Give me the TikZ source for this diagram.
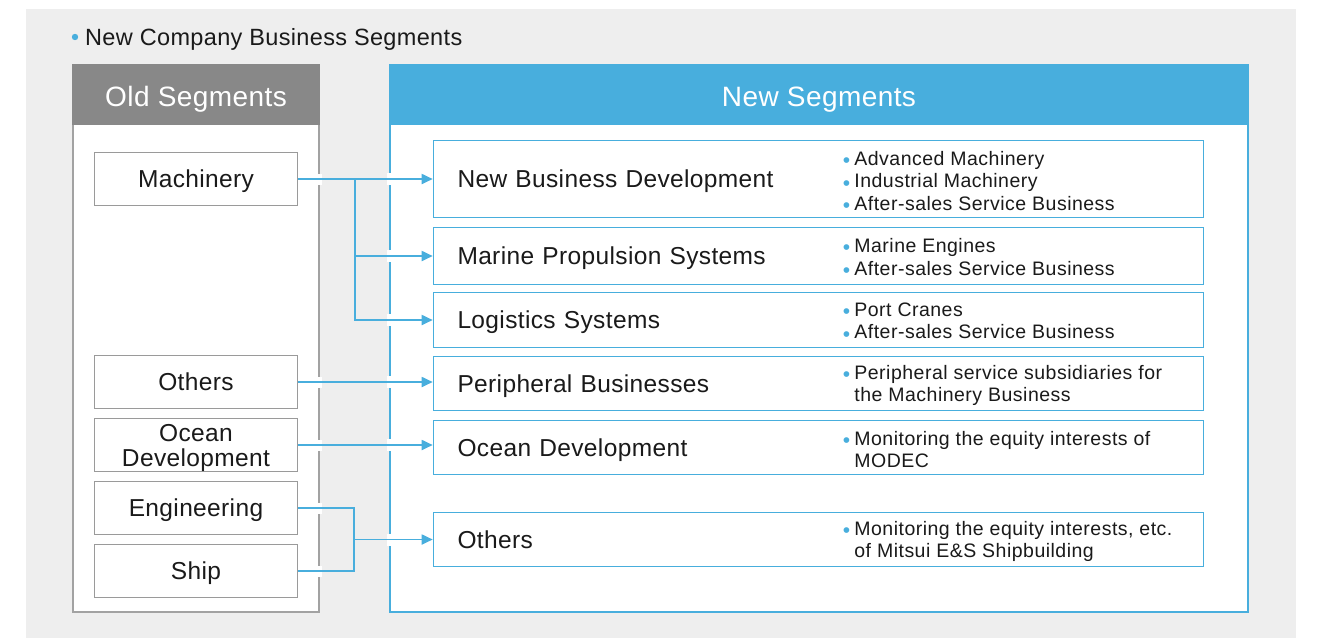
\documentclass[tikz,border=0pt]{standalone}
\usepackage{fontspec}
\setmainfont{Liberation Sans}[LetterSpace=1.5]
\usetikzlibrary{arrows.meta}

\definecolor{segblue}{HTML}{48AEDD}
\definecolor{panelgray}{HTML}{EEEEEE}
\definecolor{headgray}{HTML}{888888}
\definecolor{bordergray}{HTML}{A2A2A2}
\definecolor{boxgray}{HTML}{9A9A9A}
\definecolor{ink}{HTML}{1A1A1A}

% blue bullet used in the description lists
\newcommand\bdot{\makebox[11.5pt][l]{\textcolor{segblue}{\raisebox{-2.2pt}{\fontsize{21}{21}\selectfont\char"2022}}}}
\newcommand\bindent{\hspace*{11.5pt}}

\begin{document}
\begin{tikzpicture}[x=1pt,y=-1pt,
  panelbox/.style={draw, line width=2pt, fill=white, minimum width=#1, minimum height=547pt, inner sep=0pt},
  headbox/.style={fill=#1, text=white, minimum width=0pt, minimum height=61pt, inner sep=0pt,
    text height=24pt, text depth=0pt, font=\fontsize{28}{30}\selectfont},
  oldbox/.style={draw=boxgray, line width=1.5pt, fill=white, minimum width=203pt, minimum height=53pt,
    inner sep=0pt, text depth=0pt, align=center, text=ink, font=\fontsize{24.5}{25}\selectfont},
  newbox/.style={draw=segblue, line width=1.6pt, fill=white, minimum width=770pt, text width=722pt,
    inner xsep=24pt, inner ysep=0pt, text depth=0pt, align=left, text=ink,
    font=\fontsize{24.5}{26}\selectfont},
  blist/.style={anchor=west, inner sep=0pt, align=left, text=ink,
    font=\fontsize{19.5}{22.5}\addfontfeatures{LetterSpace=2.5}\selectfont},
  link/.style={draw=segblue, line width=1.8pt},
  conn/.style={link, -{Triangle[length=11pt,width=10pt]}},
  gap/.style={draw=white, line width=3.5pt}
]
\useasboundingbox (0,0) rectangle (1322,638);
\fill[panelgray] (26,9) rectangle (1296,638);

% title
\fill[segblue] (75,37) circle (3.2pt);
\node[anchor=west, inner sep=0pt, text depth=0pt, text=ink, font=\fontsize{23.5}{26}\selectfont] (title) at (85,37)
  {New Company Business Segments};

% the two panels with their headers
\node[panelbox=246pt, draw=bordergray] (oldp) at (196,338.5) {};
\node[headbox=headgray, minimum width=248pt] (oldh) at (196,94.5) {Old Segments};
\node[panelbox=858pt, draw=segblue] (newp) at (819,338.5) {};
\node[headbox=segblue, minimum width=860pt] (newh) at (819,94.5) {New Segments};

% old segments
\node[oldbox] (o1) at (196,179) {Machinery};
\node[oldbox] (o2) at (196,382) {Others};
\node[oldbox] (o3) at (196,445) {Ocean\\Development};
\node[oldbox] (o4) at (196,508) {Engineering};
\node[oldbox] (o5) at (196,571) {Ship};

% new segments
\node[newbox, minimum height=77pt] (n1) at (818.5,179) {New Business Development};
\node[newbox, minimum height=57pt] (n2) at (818.5,256) {Marine Propulsion Systems};
\node[newbox, minimum height=55pt] (n3) at (818.5,320) {Logistics Systems};
\node[newbox, minimum height=54pt] (n4) at (818.5,383.5) {Peripheral Businesses};
\node[newbox, minimum height=54pt] (n5) at (818.5,447.5) {Ocean Development};
\node[newbox, minimum height=54pt] (n6) at (818.5,539.5) {Others};

% descriptions
\node[blist] (b1) at ([xshift=410pt,yshift=-3pt]n1.west)
  {\bdot Advanced Machinery\\\bdot Industrial Machinery\\\bdot After-sales Service Business};
\node[blist] (b2) at ([xshift=410pt,yshift=-2pt]n2.west)
  {\bdot Marine Engines\\\bdot After-sales Service Business};
\node[blist] (b3) at ([xshift=410pt,yshift=-2pt]n3.west)
  {\bdot Port Cranes\\\bdot After-sales Service Business};
\node[blist] (b4) at ([xshift=410pt,yshift=-2pt]n4.west)
  {\bdot Peripheral service subsidiaries for\\\bindent the Machinery Business};
\node[blist] (b5) at ([xshift=410pt,yshift=-2pt]n5.west)
  {\bdot Monitoring the equity interests of\\\bindent MODEC};
\node[blist] (b6) at ([xshift=410pt,yshift=-2pt]n6.west)
  {\bdot Monitoring the equity interests, etc.\\\bindent of Mitsui E\&S Shipbuilding};

% openings in the panel borders where the connectors pass
\foreach \c in {o1,o2,o3,o4,o5}
  \draw[gap] (oldp.east |- \c.east) +(0,-5.5) -- +(0,5.5);
\foreach \c in {o1,n2,n3,o2,o3,n6}
  \draw[gap] (newp.west |- \c.east) +(0,-6) -- +(0,6);

% connectors
\coordinate (j1) at ([xshift=57pt]o1.east);
\draw[conn] (o1.east) -- (o1.east -| n1.west);
\draw[conn] (j1) |- (n2.west);
\draw[conn] (j1) |- (n3.west);
\draw[conn] (o2.east) -- (o2.east -| n4.west);
\draw[conn] (o3.east) -- (o3.east -| n5.west);
\coordinate (j2) at ([xshift=56pt]o4.east);
\draw[link] (o4.east) -- (j2) -- (j2 |- o5.east) -- (o5.east);
\draw[conn] (j2 |- n6.west) -- (n6.west);
\end{tikzpicture}
\end{document}
